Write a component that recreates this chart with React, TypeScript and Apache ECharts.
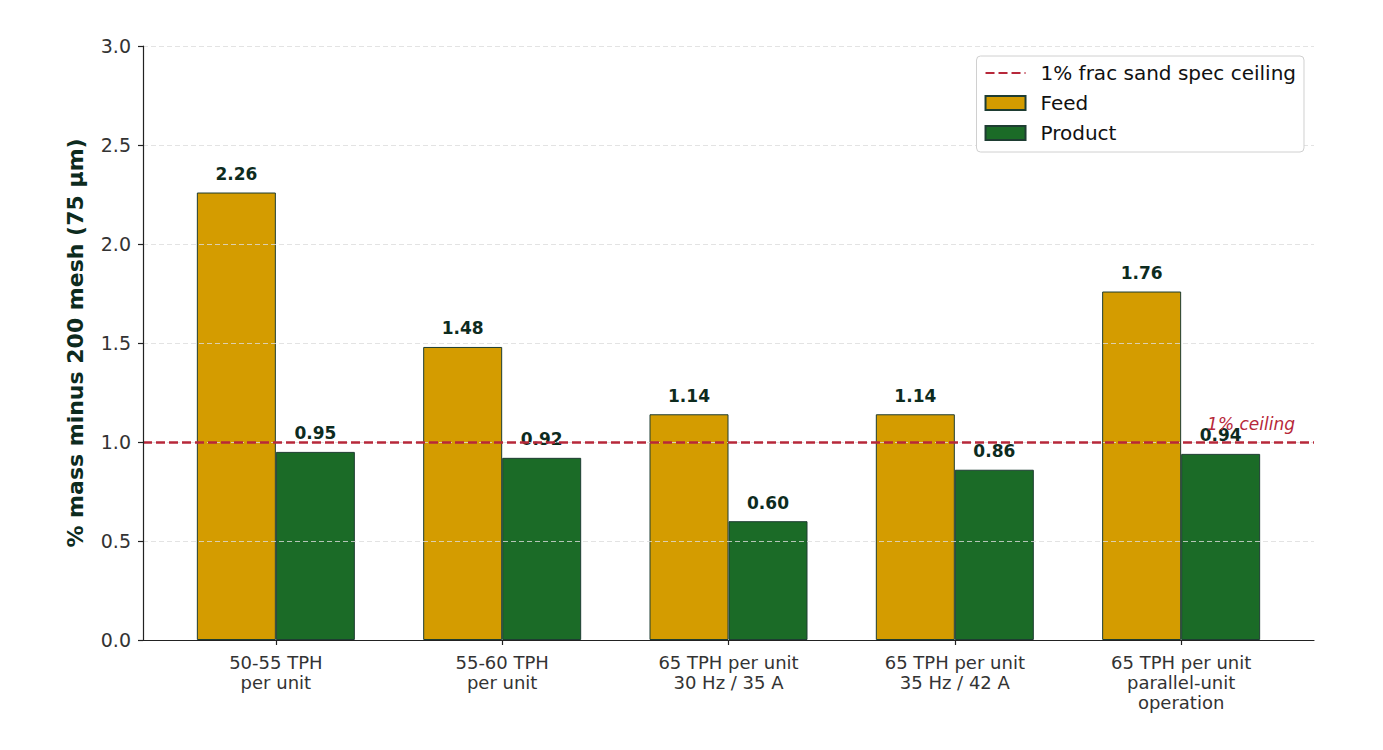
import React, { useEffect, useRef } from "react";
import * as echarts from "echarts";

const categories = [
  "50-55 TPH\nper unit",
  "55-60 TPH\nper unit",
  "65 TPH per unit\n30 Hz / 35 A",
  "65 TPH per unit\n35 Hz / 42 A",
  "65 TPH per unit\nparallel-unit\noperation",
];
const feedValues = [2.26, 1.48, 1.14, 1.14, 1.76];
const productValues = [0.95, 0.92, 0.6, 0.86, 0.94];
const yTicks = [0, 0.5, 1.0, 1.5, 2.0, 2.5, 3.0];
const ceilingValue = 1.0;

const FONT = "DejaVu Sans, Verdana, sans-serif";
const DARK = "#0d2b1e";
const FEED = "#D49C00";
const PRODUCT = "#1B6B27";
const EDGE = "#1e3d32";
const RED = "#B7283A";

export default function App() {
  const ref = useRef<HTMLDivElement>(null);
  useEffect(() => {
    if (!ref.current) return;
    const chart = echarts.init(ref.current, undefined, { renderer: "svg" });
    const idx = categories.map((_, i) => i);
    const barLabel = {
      show: true,
      position: "top" as const,
      distance: 10,
      formatter: (p: any) => Number(p.value[1]).toFixed(2),
      fontFamily: FONT,
      fontWeight: "bold" as const,
      fontSize: 17,
      color: DARK,
    };
    chart.setOption({
      animation: false,
      textStyle: { fontFamily: FONT },
      grid: { left: 143, right: 69, top: 46, bottom: 110 },
      legend: {
        orient: "vertical",
        right: 79,
        top: 56,
        z: 20,
        backgroundColor: "#fff",
        borderColor: "#d0d0d0",
        borderWidth: 1,
        borderRadius: 4,
        padding: [7, 8, 9, 8],
        itemWidth: 40,
        itemHeight: 14,
        itemGap: 10,
        textStyle: {
          fontFamily: FONT,
          fontSize: 20,
          color: "#111",
          lineHeight: 20,
          padding: [0, 0, 0, 10],
        },
        data: [
          {
            name: "1% frac sand spec ceiling",
            itemStyle: { color: "rgba(0,0,0,0)", borderColor: "rgba(0,0,0,0)", borderWidth: 0, opacity: 0 },
          },
          { name: "Feed", icon: "rect" },
          { name: "Product", icon: "rect" },
        ],
      },
      xAxis: {
        type: "value",
        min: -0.587,
        max: 4.587,
        z: 6,
        splitLine: { show: false },
        axisLine: { show: true, onZero: false, lineStyle: { color: "#222", width: 1.2 } },
        axisTick: {
          show: true,
          customValues: idx,
          length: 5,
          lineStyle: { color: "#222", width: 1.2 },
        },
        axisLabel: {
          customValues: idx,
          formatter: (v: number) => categories[Math.round(v)] ?? "",
          fontFamily: FONT,
          fontSize: 18,
          lineHeight: 20,
          color: "#333",
          margin: 12,
        },
      },
      yAxis: {
        type: "value",
        min: 0,
        max: 3,
        interval: 0.5,
        z: 5,
        name: "% mass minus 200 mesh (75 µm)",
        nameLocation: "middle",
        nameGap: 57,
        nameTextStyle: {
          fontFamily: FONT,
          fontWeight: "bold",
          fontSize: 22,
          color: DARK,
        },
        axisLine: { show: true, onZero: false, lineStyle: { color: "#222", width: 1.2 } },
        axisTick: { show: true, length: 5, lineStyle: { color: "#222", width: 1.2 } },
        axisLabel: {
          formatter: (v: number) => (yTicks.includes(v) ? v.toFixed(1) : ""),
          fontFamily: FONT,
          fontSize: 19,
          color: "#333",
          margin: 12,
        },
        splitLine: {
          show: true,
          lineStyle: { color: "#dcdcdc", type: [5, 3], width: 1, opacity: 0.8 },
        },
      },
      series: [
        {
          name: "1% frac sand spec ceiling",
          type: "line",
          z: 10,
          data: [],
          symbol: "none",
          itemStyle: { color: RED },
          lineStyle: { color: RED, type: [9, 4], width: 2.5 },
          markLine: {
            silent: true,
            symbol: "none",
            data: [{ yAxis: ceilingValue }],
            lineStyle: { color: RED, type: [9, 4], width: 2.5 },
            label: {
              show: true,
              position: "insideEndTop",
              formatter: "1% ceiling",
              fontFamily: FONT,
              fontStyle: "italic",
              fontSize: 17,
              color: RED,
              distance: [19, 10],
            },
          },
        },
        {
          name: "Feed",
          type: "bar",
          barWidth: 79,
          barGap: "0%",
          data: feedValues.map((v, i) => [i, v]),
          itemStyle: { color: FEED, borderColor: EDGE, borderWidth: 1 },
          label: barLabel,
        },
        {
          name: "Product",
          type: "bar",
          barWidth: 79,
          barGap: "0%",
          data: productValues.map((v, i) => [i, v]),
          itemStyle: { color: PRODUCT, borderColor: EDGE, borderWidth: 1 },
          label: barLabel,
        },
      ],
    });
    return () => chart.dispose();
  }, []);
  return (
    <div
      ref={ref}
      style={{ position: "fixed", left: 0, top: 0, width: 1383, height: 750, background: "#fff" }}
    />
  );
}
